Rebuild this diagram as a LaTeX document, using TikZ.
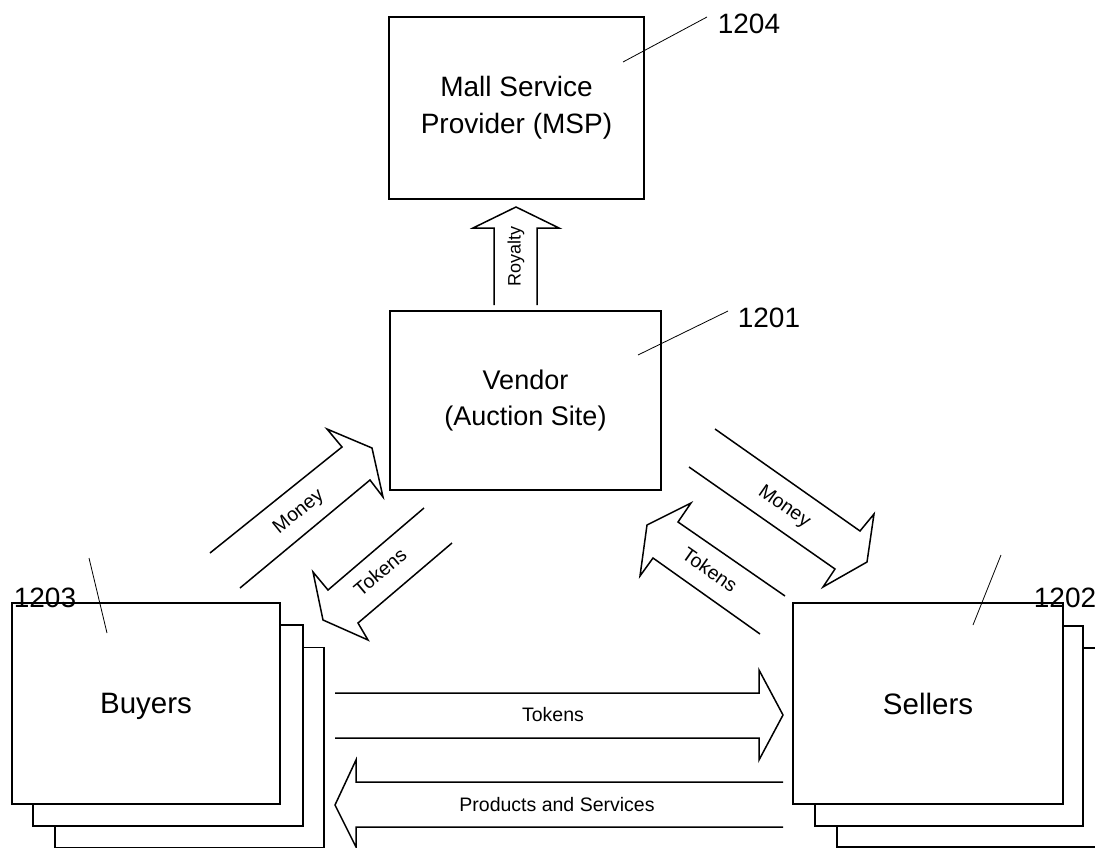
\documentclass[tikz,border=0pt]{standalone}
\usepackage{fontspec}
\setmainfont{Liberation Sans}
\newcommand{\bigtxt}{\fontsize{28bp}{37bp}\selectfont}
\newcommand{\vendtxt}{\fontsize{27bp}{36bp}\selectfont}
\newcommand{\partytxt}{\fontsize{29.5bp}{36bp}\selectfont}
\newcommand{\smalltxt}{\fontsize{19.5bp}{22bp}\selectfont}
\begin{document}
\begin{tikzpicture}[x=1bp,y=-1bp,line join=miter,
  box/.style={draw,line width=1.5bp,fill=white,inner sep=0pt,align=center,font=\bigtxt},
  party/.style={box,font=\partytxt,text depth=0pt},
  blockarrow/.style={draw,line width=1.5bp},
  leader/.style={draw,line width=0.8bp},
  reflabel/.style={font=\bigtxt,inner sep=0pt},
  arrowlabel/.style={font=\smalltxt,inner sep=0pt}]
\useasboundingbox (0,0) rectangle (1095,848);
\clip (0,0) rectangle (1095,848);

% boxes
\node[box,minimum width=255bp,minimum height=182bp] (msp) at (516.5,108) {Mall Service\\Provider (MSP)};
\node[box,font=\vendtxt,minimum width=271bp,minimum height=179bp] (vendor) at (525.5,400.5) {Vendor\\(Auction Site)};

\node[box,minimum width=269bp,minimum height=200bp] (buyers3) at (189.5,747.5) {};
\node[box,minimum width=270bp,minimum height=201bp] (buyers2) at (168,725.5) {};
\node[party,minimum width=268bp,minimum height=201bp] (buyers) at (146,703.5) {Buyers};

\node[box,minimum width=270bp,minimum height=199bp] (sellers3) at (972,747.5) {};
\node[box,minimum width=268bp,minimum height=200bp] (sellers2) at (949,726) {};
\node[party,minimum width=270bp,minimum height=201bp] (sellers) at (928,703.5) {Sellers};

% reference numerals
\node[reflabel] (n1204) at (749,24) {1204};
\node[reflabel] (n1201) at (769,318) {1201};
\node[reflabel] (n1203) at (45,598) {1203};
\node[reflabel] (n1202) at (1065,598) {1202};
\coordinate (l1204a) at (623,62);  \coordinate (l1204b) at (707,17);
\coordinate (l1201a) at (638,355); \coordinate (l1201b) at (728,311);
\coordinate (l1203a) at (107,633); \coordinate (l1203b) at (89,558);
\coordinate (l1202a) at (973,625); \coordinate (l1202b) at (1001,555);
\draw[leader] (l1204a) -- (l1204b);
\draw[leader] (l1201a) -- (l1201b);
\draw[leader] (l1203a) -- (l1203b);
\draw[leader] (l1202a) -- (l1202b);

% Royalty arrow
\draw[blockarrow] (494,305) -- (494,228) -- (473,228) -- (516,207) -- (559,228) -- (537,228) -- (537,305);
\node[arrowlabel,font=\fontsize{18bp}{20bp}\selectfont,rotate=90] (royalty) at (516,256) {Royalty};

% Buyers -> Vendor : Money
\draw[blockarrow] (210,553) -- (342,447) -- (327,429) -- (372,448) -- (383,497) -- (370,480) -- (240,588);
\node[arrowlabel,rotate=39] (moneyL) at (299,512) {Money};

% Vendor -> Buyers : Tokens
\draw[blockarrow] (424,508) -- (328,590) -- (313,572) -- (323,620) -- (368,640) -- (358,623) -- (452,543);
\node[arrowlabel,rotate=40] (tokensL) at (380,572) {Tokens};

% Vendor -> Sellers : Money
\draw[blockarrow] (715,429) -- (860,531) -- (874,514) -- (867,562) -- (823,587) -- (835,569) -- (689,467);
\node[arrowlabel,rotate=-35] (moneyR) at (784,507) {Money};

% Sellers -> Vendor : Tokens
\draw[blockarrow] (785,596) -- (678,522) -- (691,503) -- (647,525) -- (640,576) -- (653,558) -- (760,634);
\node[arrowlabel,rotate=-35] (tokensR) at (710,570) {Tokens};

% Buyers -> Sellers : Tokens
\draw[blockarrow] (335,693) -- (759,693) -- (759,670) -- (783,715) -- (759,760) -- (759,738) -- (335,738);
\node[arrowlabel] (tokensB) at (553,715) {Tokens};

% Sellers -> Buyers : Products and Services
\draw[blockarrow] (783,782) -- (356,782) -- (356,760) -- (335,805) -- (356,847) -- (356,827) -- (783,827);
\node[arrowlabel] (products) at (557,805) {Products and Services};
\end{tikzpicture}
\end{document}
